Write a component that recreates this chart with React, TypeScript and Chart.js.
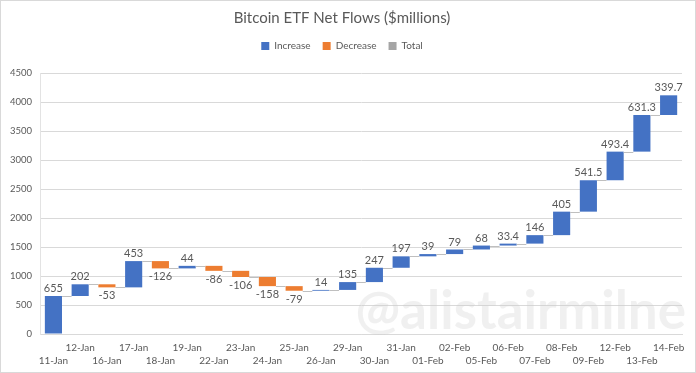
import React, { useEffect, useRef } from "react";
import { Chart, registerables } from "chart.js";

Chart.register(...registerables);

const categories = [
  "11-Jan", "12-Jan", "16-Jan", "17-Jan", "18-Jan", "19-Jan", "22-Jan", "23-Jan",
  "24-Jan", "25-Jan", "26-Jan", "29-Jan", "30-Jan", "31-Jan", "01-Feb", "02-Feb",
  "05-Feb", "06-Feb", "07-Feb", "08-Feb", "09-Feb", "12-Feb", "13-Feb", "14-Feb",
];
const flows = [
  655, 202, -53, 453, -126, 44, -86, -106, -158, -79, 14, 135, 247, 197, 39, 79,
  68, 33.4, 146, 405, 541.5, 493.4, 631.3, 339.7,
];
const yMin = 0;
const yMax = 4500;
const yStep = 500;

const FONT = "Lato, 'Open Sans', sans-serif";
const TEXT = "#595959";

export default function App() {
  const ref = useRef<HTMLCanvasElement | null>(null);

  useEffect(() => {
    const starts: number[] = [];
    const ends: number[] = [];
    let acc = 0;
    flows.forEach((v) => {
      starts.push(acc);
      acc = Math.round((acc + v) * 10) / 10;
      ends.push(acc);
    });

    const inc = flows.map((v, i) => (v >= 0 ? [starts[i], ends[i]] : null));
    const dec = flows.map((v, i) => (v < 0 ? [starts[i], ends[i]] : null));
    const tot = flows.map(() => null);

    const labels = categories.map((c, i) => (i % 2 === 0 ? ["", c] : [c, ""]));

    const legendSpace = {
      id: "legendSpace",
      beforeInit(chart: any) {
        const lg = chart.legend;
        if (!lg) return;
        const orig = lg.fit;
        lg.fit = function () {
          orig.call(this);
          this.height += 12;
        };
      },
    };

    const waterfallPlugin = {
      id: "waterfall",
      beforeDatasetsDraw(chart: any) {
        const { ctx, chartArea } = chart;
        ctx.save();
        ctx.font = `bold 53px ${FONT}`;
        ctx.fillStyle = "rgba(205,205,205,0.3)";
        ctx.textAlign = "right";
        ctx.textBaseline = "alphabetic";
        ctx.fillText("@alistairmilne", chartArea.right + 4, chartArea.bottom - 5);
        ctx.restore();
      },
      afterDatasetsDraw(chart: any) {
        const { ctx } = chart;
        const y = chart.scales.y;
        const elems: any[] = [];
        for (let i = 0; i < flows.length; i++) {
          const di = flows[i] >= 0 ? 0 : 1;
          elems.push(chart.getDatasetMeta(di).data[i]);
        }
        ctx.save();
        ctx.strokeStyle = "#bfbfbf";
        ctx.lineWidth = 1;
        for (let i = 0; i < flows.length - 1; i++) {
          const a = elems[i];
          const b = elems[i + 1];
          const py = Math.round(y.getPixelForValue(ends[i])) + 0.5;
          ctx.beginPath();
          ctx.moveTo(a.x + a.width / 2, py);
          ctx.lineTo(b.x - b.width / 2, py);
          ctx.stroke();
        }
        ctx.font = `11px ${FONT}`;
        ctx.fillStyle = TEXT;
        ctx.textAlign = "center";
        for (let i = 0; i < flows.length; i++) {
          const e = elems[i];
          const py = y.getPixelForValue(ends[i]);
          if (flows[i] >= 0) {
            ctx.textBaseline = "bottom";
            ctx.fillText(String(flows[i]), e.x, py - 2);
          } else {
            ctx.textBaseline = "top";
            ctx.fillText(String(flows[i]), e.x, py + 3);
          }
        }
        ctx.restore();
      },
    };

    const chart = new Chart(ref.current as HTMLCanvasElement, {
      type: "bar",
      data: {
        labels,
        datasets: [
          { label: "Increase", data: inc as any, backgroundColor: "#4472C4", grouped: false } as any,
          { label: "Decrease", data: dec as any, backgroundColor: "#ED7D31", grouped: false } as any,
          { label: "Total", data: tot as any, backgroundColor: "#A5A5A5", grouped: false } as any,
        ],
      },
      options: {
        animation: false,
        responsive: true,
        maintainAspectRatio: false,
        layout: { padding: { left: 1, right: 13, top: 2, bottom: -3 } },
        datasets: { bar: { categoryPercentage: 1, barPercentage: 0.64 } } as any,
        plugins: {
          title: {
            display: true,
            text: "Bitcoin ETF Net Flows ($millions)",
            color: TEXT,
            font: { family: FONT, size: 15, weight: "normal" as any },
            padding: { top: 6, bottom: 2 },
          },
          legend: {
            display: true,
            position: "top",
            labels: {
              color: TEXT,
              boxWidth: 8,
              boxHeight: 8,
              padding: 12,
              font: { family: FONT, size: 10 },
            },
          },
          tooltip: { enabled: false },
        },
        scales: {
          x: {
            grid: { display: false, drawTicks: false },
            border: { color: "#d9d9d9" },
            ticks: {
              color: TEXT,
              autoSkip: false,
              maxRotation: 0,
              minRotation: 0,
              padding: 7,
              font: { family: FONT, size: 10, lineHeight: 1.35 },
            },
          },
          y: {
            min: yMin,
            max: yMax,
            grid: { color: "#d9d9d9", drawTicks: false },
            border: { display: true, color: "#e3e3e3" },
            ticks: {
              stepSize: yStep,
              color: TEXT,
              padding: 8,
              font: { family: FONT, size: 9.5 },
              callback: (v: any) => String(v),
            },
          },
        },
      },
      plugins: [waterfallPlugin, legendSpace],
    });
    return () => chart.destroy();
  }, []);

  return (
    <div
      style={{
        position: "fixed",
        left: 0,
        top: 0,
        width: 696,
        height: 373,
        boxSizing: "border-box",
        border: "1px solid #d9d9d9",
        background: "#fff",
      }}
    >
      <canvas ref={ref} />
    </div>
  );
}
